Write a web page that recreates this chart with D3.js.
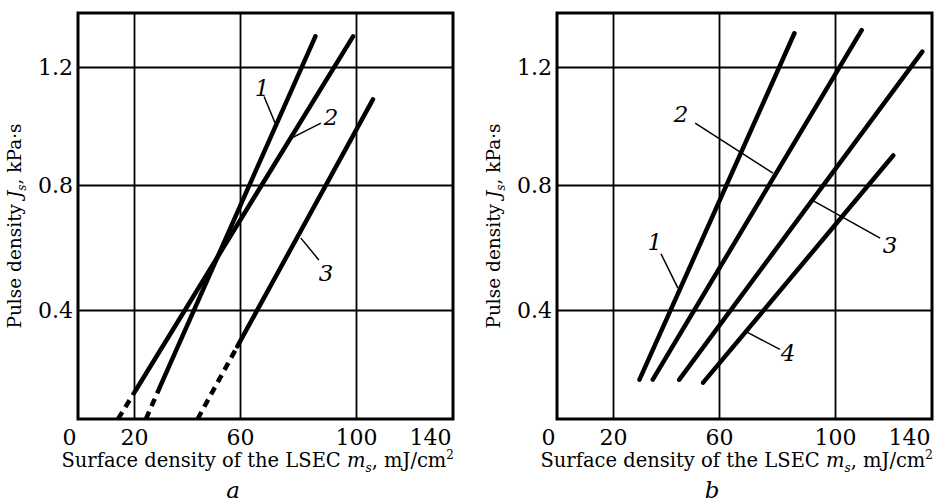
<!DOCTYPE html>
<html>
<head>
<meta charset="utf-8">
<script src="https://cdn.jsdelivr.net/npm/d3@7"></script>
<style>
  body { margin: 0; background: #fff; }
  svg text { font-family: "DejaVu Serif", serif; fill: #000; }
</style>
</head>
<body>
<div id="chart"></div>
<script>
// axis values
var xTicks = [0, 20, 60, 100, 140];
var xGrid = [20, 60, 100];
var yTicks = [0.4, 0.8, 1.2];
var xBreaks = [0, 20, 60, 100, 140];
var yBreaks = [0.04, 0.4, 0.8, 1.2, 1.376];

// panel a: curves 1-3, solid part + dashed extrapolation
var aNames = ["1", "2", "3"];
var aSolidX = [[30, 86], [21, 99], [59, 107]];
var aSolidY = [[0.15, 1.30], [0.14, 1.30], [0.28, 1.09]];
var aDashX = [[24.5, 30], [14.3, 21], [44, 59]];
var aDashY = [[0.04, 0.15], [0.04, 0.14], [0.04, 0.28]];
var aLabelX = [67.6, 91.4, 89.7];
var aLabelY = [1.13, 1.03, 0.52];
var aLeaderX = [[68.3, 72.1], [87.9, 77.9], [87.2, 81.0]];
var aLeaderY = [[1.10, 1.01], [1.01, 0.96], [0.56, 0.63]];

// panel b: curves 1-4
var bNames = ["1", "2", "3", "4"];
var bSolidX = [[30, 86], [35, 111], [45, 136], [54, 124]];
var bSolidY = [[0.17, 1.31], [0.17, 1.32], [0.17, 1.25], [0.16, 0.90]];
var bLabelX = [35.8, 45.7, 122.7, 83.8];
var bLabelY = [0.62, 1.04, 0.61, 0.26];
var bLeaderX = [[38.1, 44.5], [51.0, 78.6], [118.6, 92.4], [81.0, 69.0]];
var bLeaderY = [[0.58, 0.47], [1.01, 0.84], [0.63, 0.75], [0.27, 0.33]];

var W = 938, H = 502;
var pw = 375, ph = 406;

var svg = d3.select("#chart").append("svg")
    .attr("width", W)
    .attr("height", H);

function pairs(xs, ys) {
    return xs.map(function (v, i) { return [v, ys[i]]; });
}

function drawPanel(left, top, caption, names, solidX, solidY, dashX, dashY, labX, labY, ldX, ldY) {
    var x = d3.scaleLinear().domain(xBreaks).range([0, 56, 162, 278, pw]);
    var y = d3.scaleLinear().domain(yBreaks).range([ph, 297, 172, 54, 0]);

    var g = svg.append("g").attr("transform", "translate(" + left + "," + top + ")");

    // grid
    g.append("g")
        .attr("transform", "translate(0," + ph + ")")
        .call(d3.axisBottom(x).tickValues(xGrid).tickSize(-ph).tickFormat(""))
        .call(function (s) {
            s.select(".domain").remove();
            s.selectAll("line").attr("stroke", "#000").attr("stroke-width", 1.8);
        });
    g.append("g")
        .call(d3.axisLeft(y).tickValues(yTicks).tickSize(-pw).tickPadding(5).tickFormat(d3.format(".1f")))
        .call(function (s) {
            s.select(".domain").remove();
            s.selectAll("line").attr("stroke", "#000").attr("stroke-width", 1.8);
            s.selectAll("text").style("font-size", "22px").attr("font-family", null);
        });

    // x tick labels
    g.append("g")
        .attr("transform", "translate(0," + ph + ")")
        .call(d3.axisBottom(x).tickValues(xTicks).tickSize(0).tickPadding(10))
        .call(function (s) {
            s.select(".domain").remove();
            s.selectAll("text").style("font-size", "22px").attr("font-family", null)
                .attr("text-anchor", function (d) { return (d === 0 || d === 140) ? "end" : "middle"; })
                .attr("dx", function (d) { return (d === 0 || d === 140) ? -2 : 0; });
        });

    // frame
    g.append("rect")
        .attr("x", 0).attr("y", 0)
        .attr("width", pw).attr("height", ph)
        .attr("fill", "none")
        .attr("stroke", "#000")
        .attr("stroke-width", 3);

    var line = d3.line()
        .x(function (d) { return x(d[0]); })
        .y(function (d) { return y(d[1]); });

    if (dashX) {
        g.selectAll(".dash")
            .data(dashX.map(function (xs, i) { return pairs(xs, dashY[i]); }))
            .enter().append("path")
            .attr("d", line)
            .attr("fill", "none")
            .attr("stroke", "#000")
            .attr("stroke-width", 4.5)
            .attr("stroke-dasharray", "8,6");
    }

    g.selectAll(".solid")
        .data(solidX.map(function (xs, i) { return pairs(xs, solidY[i]); }))
        .enter().append("path")
        .attr("d", line)
        .attr("fill", "none")
        .attr("stroke", "#000")
        .attr("stroke-width", 4.5)
        .attr("stroke-linecap", "round");

    // leaders and curve numbers
    g.selectAll(".leader")
        .data(ldX.map(function (xs, i) { return pairs(xs, ldY[i]); }))
        .enter().append("path")
        .attr("d", line)
        .attr("fill", "none")
        .attr("stroke", "#000")
        .attr("stroke-width", 1.5);

    g.selectAll(".num")
        .data(names)
        .enter().append("text")
        .attr("x", function (d, i) { return x(labX[i]); })
        .attr("y", function (d, i) { return y(labY[i]); })
        .attr("dy", "0.36em")
        .attr("text-anchor", "middle")
        .style("font-size", "23px")
        .style("font-style", "italic")
        .text(function (d) { return d; });

    // x title
    var xt = g.append("text")
        .attr("x", pw + 1)
        .attr("y", 467 - top)
        .attr("text-anchor", "end")
        .style("font-size", "19.5px");
    xt.append("tspan").text("Surface density of the LSEC ");
    xt.append("tspan").style("font-style", "italic").text("m");
    xt.append("tspan").style("font-style", "italic").style("font-size", "12px").attr("dy", 5).text("s");
    xt.append("tspan").attr("dy", -5).text(", mJ/cm");
    xt.append("tspan").style("font-size", "12px").attr("dy", -8).text("2");

    // y title
    var yt = g.append("text")
        .attr("transform", "translate(-57," + (ph * 0.5 + 10) + ") rotate(-90)")
        .attr("text-anchor", "middle")
        .style("font-size", "18.5px");
    yt.append("tspan").text("Pulse density ");
    yt.append("tspan").style("font-style", "italic").text("J");
    yt.append("tspan").style("font-style", "italic").style("font-size", "12px").attr("dy", 5).text("s");
    yt.append("tspan").attr("dy", -5).text(", kPa\u00b7s");

    // caption
    g.append("text")
        .attr("x", 155)
        .attr("y", 498 - top)
        .attr("text-anchor", "middle")
        .style("font-size", "23px")
        .style("font-style", "italic")
        .text(caption);
}

drawPanel(78, 13, "a", aNames, aSolidX, aSolidY, aDashX, aDashY, aLabelX, aLabelY, aLeaderX, aLeaderY);
drawPanel(557, 13, "b", bNames, bSolidX, bSolidY, null, null, bLabelX, bLabelY, bLeaderX, bLeaderY);
</script>
</body>
</html>
